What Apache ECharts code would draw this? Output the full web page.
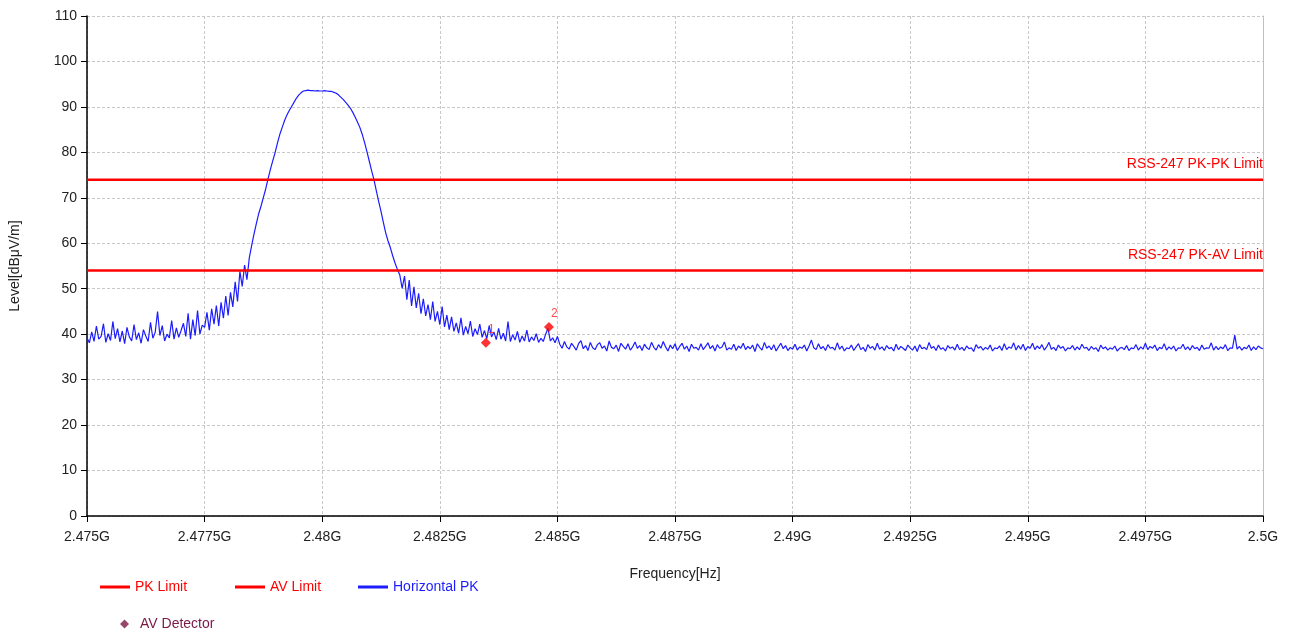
<!DOCTYPE html>
<html>
<head>
<meta charset="utf-8">
<style>
  html, body { margin: 0; padding: 0; background: #fff; }
  #chart { width: 1295px; height: 635px; }
</style>
<script src="https://cdn.jsdelivr.net/npm/echarts@6/dist/echarts.min.js"></script>
</head>
<body>
<div id="chart"></div>
<script>
// sweep: 2.475 GHz .. 2.5 GHz, 501 points
const freqStart = 2.475;
const freqStep = 0.00005;

// Horizontal PK trace, dBuV/m
const pkLevels = [
  39.2, 38.1, 40.5, 38.4, 41.8, 38.9, 39.5, 42.3, 38.2, 40.1, 38.6, 42.8, 39.0, 41.2, 38.3, 40.7, 37.9, 41.5, 39.4, 38.5,
  42.1, 38.8, 40.3, 38.0, 41.0, 39.6, 38.4, 42.6, 39.1, 40.4, 45.0, 39.7, 41.9, 38.5, 40.0, 39.2, 43.0, 38.9, 41.4, 39.3,
  40.8, 42.4, 39.5, 44.6, 38.9, 43.2, 39.7, 45.2, 40.0, 42.0,
  41.5, 44.8, 40.9, 45.6, 42.2, 46.3, 41.8, 47.0, 43.5, 48.4, 44.1, 49.2, 46.0, 51.5, 47.2, 53.8,
  50.5, 55.2, 52.0, 56.8, 59.5,
  62.0, 64.3, 66.5, 68.2, 70.1, 72.0, 74.2, 76.3, 78.2, 80.0, 82.1, 84.0, 85.5, 87.0, 88.2, 89.2, 90.1, 91.0, 91.9, 92.6, 93.1, 93.5,
  93.6, 93.7, 93.6, 93.6, 93.5, 93.6, 93.5, 93.5, 93.6, 93.5, 93.4, 93.4, 93.2,
  93.0, 92.6, 92.1, 91.6, 91.0, 90.4, 89.7, 88.8, 87.8, 86.7, 85.5, 84.0, 82.2, 80.2, 78.1, 76.0, 74.0, 71.6, 69.2, 67.0,
  64.6, 62.3, 60.5, 59.0, 57.2, 55.6, 54.2,
  53.0, 50.1, 52.8, 47.6, 51.9, 46.2, 50.4, 45.8, 49.0, 44.5, 47.8, 44.0, 46.5, 43.2, 47.2, 42.8, 45.0, 42.1, 46.1, 41.6,
  44.2, 41.0, 43.8, 40.6, 42.5, 40.2, 43.6, 39.8, 41.7, 40.1, 42.9, 39.5, 41.2, 39.9, 42.2, 39.3, 40.8, 39.0, 41.9, 39.4,
  40.5, 38.8, 41.3, 38.9, 40.2, 38.5, 42.8, 38.4, 39.9, 38.7, 40.6, 38.2, 39.6, 38.5, 40.9, 38.3, 39.4, 38.6, 40.1, 38.2,
  39.1, 38.4, 40.0, 41.3, 38.5, 39.2, 38.1, 39.5,
  37.8, 36.9, 38.4, 37.2, 36.7, 38.0, 37.3, 36.5, 37.9, 38.6, 36.8, 37.5, 36.4, 38.2, 37.0, 36.6, 37.7, 38.1, 36.9, 37.4,
  36.3, 38.5, 37.1, 36.8, 37.6, 36.2, 38.0, 37.3, 36.7, 37.9, 36.5, 37.2, 38.3, 36.9, 37.5, 36.4, 37.8, 37.0, 36.6, 38.2,
  37.1, 36.5, 37.7, 36.9, 38.4, 37.2, 36.3, 37.6, 36.8, 37.9, 36.4, 37.3, 38.0, 36.7, 37.4, 36.2, 37.8, 36.9, 37.1, 36.5,
  37.9, 36.6, 37.3, 38.1, 36.8, 37.5, 36.3, 37.7, 36.9, 37.2, 38.3, 36.5, 37.0, 36.7, 37.8, 36.4, 37.4, 36.9, 38.0, 36.6,
  37.3, 36.8, 37.6, 36.2, 37.9, 37.1, 36.5, 38.2, 36.9, 37.4, 36.6, 37.7, 36.3, 37.2, 38.0, 36.8, 37.5, 36.4, 37.1, 36.7,
  37.8, 36.5, 37.2, 36.9, 37.6, 36.3, 37.4, 38.7, 37.0, 36.6, 37.9, 36.8, 37.3, 36.4, 37.7, 36.9, 37.1, 36.5, 38.1, 36.7,
  37.4, 36.3, 37.0, 36.8, 37.6, 36.4, 37.2, 37.9, 36.6, 37.1, 36.2, 37.7, 36.9, 37.3, 36.5, 38.0, 36.7, 37.2, 36.4, 37.5,
  36.8, 37.1, 36.3, 37.8, 36.6, 37.3, 36.9, 36.4, 37.6, 37.0, 36.5, 37.4, 36.2, 37.7, 36.8, 37.1, 36.6, 38.2, 36.9, 37.3,
  36.4, 37.6, 36.7, 37.0, 36.3, 37.5, 36.9, 37.2, 36.5, 37.8, 36.6, 37.1, 36.4, 37.4, 36.8, 37.0, 36.2, 37.7, 36.9, 37.3,
  36.5, 37.1, 36.7, 37.6, 36.3, 37.0, 36.8, 37.4, 36.4, 37.9, 36.6, 37.2, 36.9, 38.1, 36.5, 37.5, 36.7, 37.8, 36.4, 37.3,
  36.9, 38.0, 36.6, 37.4, 36.8, 37.7, 36.5, 37.2, 38.2, 36.7, 37.1, 36.4, 37.6, 36.9, 37.3, 36.3, 37.0, 36.8, 37.5, 36.5,
  37.2, 36.6, 37.8, 36.9, 37.1, 36.4, 37.3, 36.7, 37.0, 36.2, 37.6, 36.8, 37.2, 36.5, 37.0, 36.7, 37.4, 36.3, 36.9, 37.1,
  36.6, 37.5, 36.4, 37.0, 36.8, 37.7, 36.5, 37.2, 36.7, 38.0, 36.6, 37.3, 36.9, 37.6, 36.4, 37.1, 36.8, 37.9, 36.5, 37.2,
  36.7, 37.4, 36.3, 37.0, 36.9, 37.8, 36.6, 37.2, 36.5, 37.5, 36.8, 37.1, 36.4, 37.6, 36.7, 37.0, 36.9, 38.1, 36.5, 37.3,
  36.6, 37.2, 36.8, 37.7, 36.4, 37.0, 36.9, 39.8, 36.7, 37.3, 36.5, 37.1, 36.8, 37.6, 36.4, 37.2, 36.6, 37.4, 37.0, 36.8
];

const pkLimit = 74;
const avLimit = 54;
const limitRange = [2.475, 2.5];

// AV detector markers [GHz, dBuV/m]
const markerFreqs = [2.48348, 2.48482];
const markerLevels = [38.1, 41.6];
const markerNames = ['1', '2'];

const xTickStep = 0.0025;

const FONT = '"Liberation Sans", Arial, sans-serif';
const RED = '#ff0000';
const BLUE = '#1c1cff';
const trace = pkLevels.map((v, i) => [freqStart + i * freqStep, v]);

function limitData(level, text) {
  return [
    [limitRange[0], level],
    {
      value: [limitRange[1], level],
      label: {
        show: true, formatter: text, position: 'top', align: 'right',
        distance: 8, color: RED, fontSize: 14, fontFamily: FONT
      }
    }
  ];
}

function lineLegend(name, left, color) {
  return {
    left: left, top: 575, itemWidth: 30, itemHeight: 3, itemGap: 0,
    icon: 'rect',
    textStyle: { fontFamily: FONT, fontSize: 14, color: color },
    data: [{ name: name, itemStyle: { color: color } }]
  };
}

const chart = echarts.init(document.getElementById('chart'));
chart.setOption({
  animation: false,
  backgroundColor: '#fff',
  grid: { left: 87, right: 32, top: 16, bottom: 119 },
  legend: [
    lineLegend('PK Limit', 95, RED),
    lineLegend('AV Limit', 230, RED),
    lineLegend('Horizontal PK', 353, BLUE),
    {
      left: 115, top: 612, itemWidth: 9, itemHeight: 9,
      textStyle: { fontFamily: FONT, fontSize: 14, color: '#7a1848', padding: [0, 0, 0, 6] },
      data: [{ name: 'AV Detector', icon: 'diamond', itemStyle: { color: '#7a1848' } }]
    }
  ],
  xAxis: {
    type: 'value',
    min: 2.475, max: 2.5, interval: xTickStep,
    name: 'Frequency[Hz]', nameLocation: 'middle', nameGap: 51,
    nameTextStyle: { fontFamily: FONT, fontSize: 14, color: '#222' },
    axisLine: { show: true, onZero: false, lineStyle: { color: '#000', width: 1.5 } },
    axisTick: { show: true, length: 6, lineStyle: { color: '#000' } },
    axisLabel: {
      margin: 14, fontFamily: FONT, fontSize: 14, color: '#222',
      formatter: v => parseFloat(v.toFixed(4)) + 'G'
    },
    splitLine: { show: true, lineStyle: { color: '#c8c8c8', type: [3, 2] } }
  },
  yAxis: [
    {
      type: 'value', min: 0, max: 110, interval: 10,
      name: 'Level[dBμV/m]', nameLocation: 'middle', nameGap: 65,
      nameTextStyle: { fontFamily: FONT, fontSize: 14, color: '#222' },
      axisLine: { show: true, lineStyle: { color: '#000', width: 1.5 } },
      axisTick: { show: true, length: 6, lineStyle: { color: '#000' } },
      axisLabel: { margin: 10, fontFamily: FONT, fontSize: 14, color: '#222' },
      splitLine: { show: true, lineStyle: { color: '#c8c8c8', type: [3, 2] } }
    },
    {
      type: 'value', min: 0, max: 110, position: 'right',
      axisLine: { show: true, lineStyle: { color: '#c0c0c0' } },
      axisTick: { show: false }, axisLabel: { show: false }, splitLine: { show: false }
    }
  ],
  series: [
    {
      name: 'PK Limit', type: 'line', data: limitData(pkLimit, 'RSS-247 PK-PK Limit'),
      symbol: 'circle', symbolSize: 0, showSymbol: true,
      lineStyle: { color: RED, width: 2.5 }, itemStyle: { color: RED },
      z: 3, silent: true
    },
    {
      name: 'AV Limit', type: 'line', data: limitData(avLimit, 'RSS-247 PK-AV Limit'),
      symbol: 'circle', symbolSize: 0, showSymbol: true,
      lineStyle: { color: RED, width: 2.5 }, itemStyle: { color: RED },
      z: 3, silent: true
    },
    {
      name: 'Horizontal PK', type: 'line', data: trace,
      symbol: 'none', sampling: null,
      lineStyle: { color: BLUE, width: 1.2 }, itemStyle: { color: BLUE },
      z: 2
    },
    {
      name: 'AV Detector', type: 'scatter',
      data: markerFreqs.map((f, i) => [f, markerLevels[i]]),
      symbol: 'diamond', symbolSize: 10,
      itemStyle: { color: RED },
      label: {
        show: true, position: [7, -14],
        formatter: p => markerNames[p.dataIndex],
        color: '#ff2020', fontSize: 12, fontFamily: FONT
      },
      labelLayout: { hideOverlap: false },
      z: 5
    }
  ]
});
</script>
</body>
</html>
